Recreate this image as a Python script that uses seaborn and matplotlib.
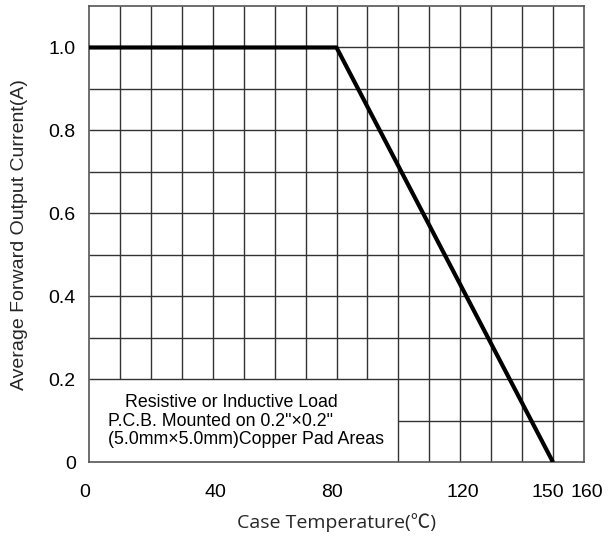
import matplotlib
matplotlib.use("Agg")
import matplotlib.pyplot as plt
import matplotlib.transforms as mtransforms
import seaborn as sns
import pandas as pd

# data
temps = [0, 80, 150]
currents = [1.0, 1.0, 0.0]
x_ticks = [0, 40, 80, 120, 150, 160]
x_tick_labels = ["0", "40", "80", "120", "150", "160"]
y_ticks = [0, 0.2, 0.4, 0.6, 0.8, 1.0]
y_tick_labels = ["0", "0.2", "0.4", "0.6", "0.8", "1.0"]
grid_x = [10, 20, 30, 40, 50, 60, 70, 80, 90, 100, 110, 120, 130, 140, 150]
grid_y = [0.1, 0.2, 0.3, 0.4, 0.5, 0.6, 0.7, 0.8, 0.9, 1.0]
note_lines = ["Resistive or Inductive Load",
              "P.C.B. Mounted on 0.2\"\u00d70.2\"",
              "(5.0mm\u00d75.0mm)Copper Pad Areas"]

sns.set_theme(style="white")
plt.rcParams['font.family'] = ['Liberation Sans', 'DejaVu Sans']

fig = plt.figure(figsize=(6.09, 5.39), dpi=100)
ax = fig.add_axes([89/609, 1-462.3/539, 495/609, 456.3/539])
ax.set_xlim(0, 160)
ax.set_ylim(0, 1.1)

gc = '#333333'
glw = 1.0
# note box area: x 0-100, y 0-0.2 has no internal grid
for gx in grid_x:
    y0 = 0.2 if gx < 100 else 0.0
    ax.vlines(gx, y0, 1.1, color=gc, lw=glw, zorder=1)
for gy in grid_y:
    x0 = 100 if gy < 0.2 - 1e-9 else 0
    ax.hlines(gy, x0, 160, color=gc, lw=glw, zorder=1)

df = pd.DataFrame({"T": temps, "I": currents})
sns.lineplot(data=df, x="T", y="I", ax=ax, color='black', lw=3.0,
             zorder=3, sort=False, solid_capstyle='butt')

for s in ax.spines.values():
    s.set_color('#555555')
    s.set_linewidth(1.2)

ax.set_xticks(x_ticks)
ax.set_xticklabels(x_tick_labels)
ax.set_yticks(y_ticks)
ax.set_yticklabels(y_tick_labels)
ax.tick_params(axis='both', length=0, labelsize=14, colors='black')
ax.tick_params(axis='y', pad=9.5)
ax.tick_params(axis='x', pad=15.5)

# small horizontal nudges of x tick labels (pixels) as in the reference
label_shift_px = [-4, 3, -5, 2.5, -5, 3]
for lbl, dx in zip(ax.get_xticklabels(), label_shift_px):
    lbl.set_transform(lbl.get_transform() +
                      mtransforms.ScaledTranslation(dx / 100, 0, fig.dpi_scale_trans))

ax.set_xlabel("Case Temperature(\u2103)", fontsize=14,
              family=['Open Sans', 'Noto Sans CJK SC', 'DejaVu Sans'], labelpad=9)
ax.set_ylabel("Average Forward Output Current(A)", fontsize=14, labelpad=15)

ax.text(11.6, 0.143, note_lines[0], fontsize=12.8, va='center', ha='left', color='black')
ax.text(6.1, 0.0973, note_lines[1], fontsize=12.8, va='center', ha='left', color='black')
ax.text(6.1, 0.054, note_lines[2], fontsize=12.8, va='center', ha='left', color='black')

fig.savefig("out.png", dpi=100)
